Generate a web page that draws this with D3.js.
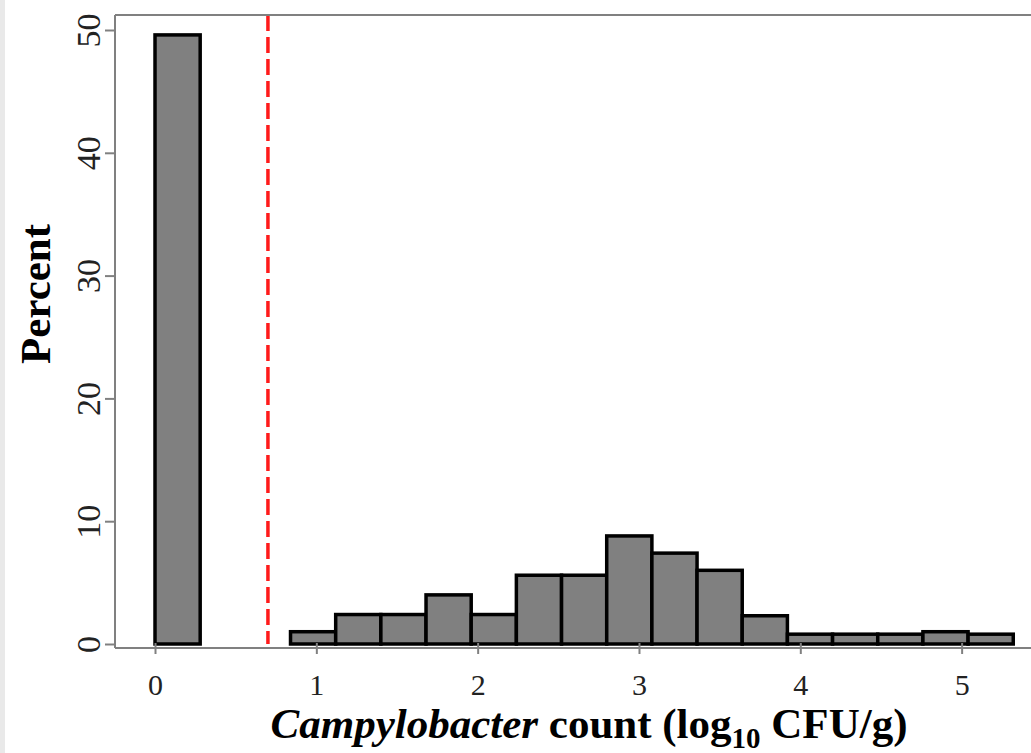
<!DOCTYPE html>
<html>
<head>
<meta charset="utf-8">
<script src="https://cdn.jsdelivr.net/npm/d3@7"></script>
<style>
  body { margin: 0; background: #fff; }
  svg { display: block; }
</style>
</head>
<body>
<div id="chart"></div>
<script>
// histogram data (percent of samples per log10 bin)
const binStarts = [0, 0.84, 1.12, 1.4, 1.68, 1.96, 2.24, 2.52, 2.8, 3.08, 3.36, 3.64, 3.92, 4.2, 4.48, 4.76, 5.04];
const percents = [49.6, 1.0, 2.4, 2.4, 4.0, 2.4, 5.6, 5.6, 8.8, 7.4, 6.0, 2.3, 0.8, 0.8, 0.8, 1.0, 0.8];
const binWidth = 0.28;
const detectionLimit = 0.7;
const xTicks = [0, 1, 2, 3, 4, 5];
const yTicks = [0, 10, 20, 30, 40, 50];

const dataset = binStarts.map((d, i) => ({ x0: d, x1: d + binWidth, pct: percents[i] }));

const width = 1031;
const height = 753;
const plot = { left: 115, top: 15, bottom: 648, right: 1031 };
const serif = '"Liberation Serif", "Times New Roman", serif';

const xScale = d3.scaleLinear().domain([-0.248, 5.43]).range([plot.left, plot.right]);
const yScale = d3.scaleLinear().domain([0, 50]).range([644, 30]);

const svg = d3.select('#chart')
  .append('svg')
  .attr('width', width)
  .attr('height', height);

// grey strip on the left edge
svg.append('rect')
  .attr('x', 0).attr('y', 0)
  .attr('width', 5).attr('height', height)
  .attr('fill', '#e9e9e9');

// bars
svg.append('g')
  .selectAll('rect')
  .data(dataset)
  .join('rect')
  .attr('x', d => xScale(d.x0))
  .attr('y', d => yScale(d.pct))
  .attr('width', d => xScale(d.x1) - xScale(d.x0))
  .attr('height', d => yScale(0) - yScale(d.pct))
  .attr('fill', '#808080')
  .attr('stroke', '#000')
  .attr('stroke-width', 3.5);

// detection limit
svg.append('line')
  .attr('x1', xScale(detectionLimit)).attr('x2', xScale(detectionLimit))
  .attr('y1', plot.top).attr('y2', yScale(0))
  .attr('stroke', '#ff1a1a')
  .attr('stroke-width', 3.5)
  .attr('stroke-dasharray', '16,6');

// frame lines
const frame = svg.append('g').attr('stroke', '#808080').attr('stroke-width', 2);
frame.append('line')
  .attr('x1', plot.left).attr('x2', plot.left)
  .attr('y1', plot.top).attr('y2', plot.bottom);
frame.append('line')
  .attr('x1', plot.left).attr('x2', plot.right)
  .attr('y1', plot.top).attr('y2', plot.top);
frame.append('line')
  .attr('x1', plot.left).attr('x2', plot.right)
  .attr('y1', plot.bottom).attr('y2', plot.bottom);

// y axis
const yAxis = svg.append('g')
  .attr('transform', `translate(${plot.left},0)`)
  .call(d3.axisLeft(yScale).tickValues(yTicks).tickSize(10).tickSizeOuter(0));
yAxis.select('.domain').remove();
yAxis.selectAll('.tick line').attr('stroke', '#808080').attr('stroke-width', 2);
yAxis.selectAll('.tick text')
  .attr('transform', 'rotate(-90)')
  .attr('x', 0)
  .attr('y', -15)
  .attr('dy', 0)
  .attr('text-anchor', 'middle')
  .attr('fill', '#222')
  .style('font-family', serif)
  .style('font-size', '34px');

// x axis
const xAxis = svg.append('g')
  .attr('transform', `translate(0,${plot.bottom})`)
  .call(d3.axisBottom(xScale).tickValues(xTicks).tickFormat(d3.format('d')).tickSize(6).tickSizeOuter(0));
xAxis.select('.domain').remove();
xAxis.selectAll('.tick line').attr('stroke', '#808080').attr('stroke-width', 2).attr('y1', -5);
xAxis.selectAll('.tick text')
  .attr('y', 47)
  .attr('dy', 0)
  .attr('fill', '#222')
  .style('font-family', serif)
  .style('font-size', '30px');

// axis titles
svg.append('text')
  .attr('transform', 'translate(50,294) rotate(-90)')
  .attr('text-anchor', 'middle')
  .style('font-family', serif)
  .style('font-size', '43px')
  .style('font-weight', 'bold')
  .text('Percent');

const xTitle = svg.append('text')
  .attr('x', 589)
  .attr('y', 738)
  .attr('text-anchor', 'middle')
  .style('font-family', serif)
  .style('font-size', '43px')
  .style('font-weight', 'bold');
xTitle.append('tspan').style('font-style', 'italic').text('Campylobacter');
xTitle.append('tspan').text(' count (log');
xTitle.append('tspan').attr('dy', 10).style('font-size', '29px').text('10');
xTitle.append('tspan').attr('dy', -10).text(' CFU/g)');
</script>
</body>
</html>
